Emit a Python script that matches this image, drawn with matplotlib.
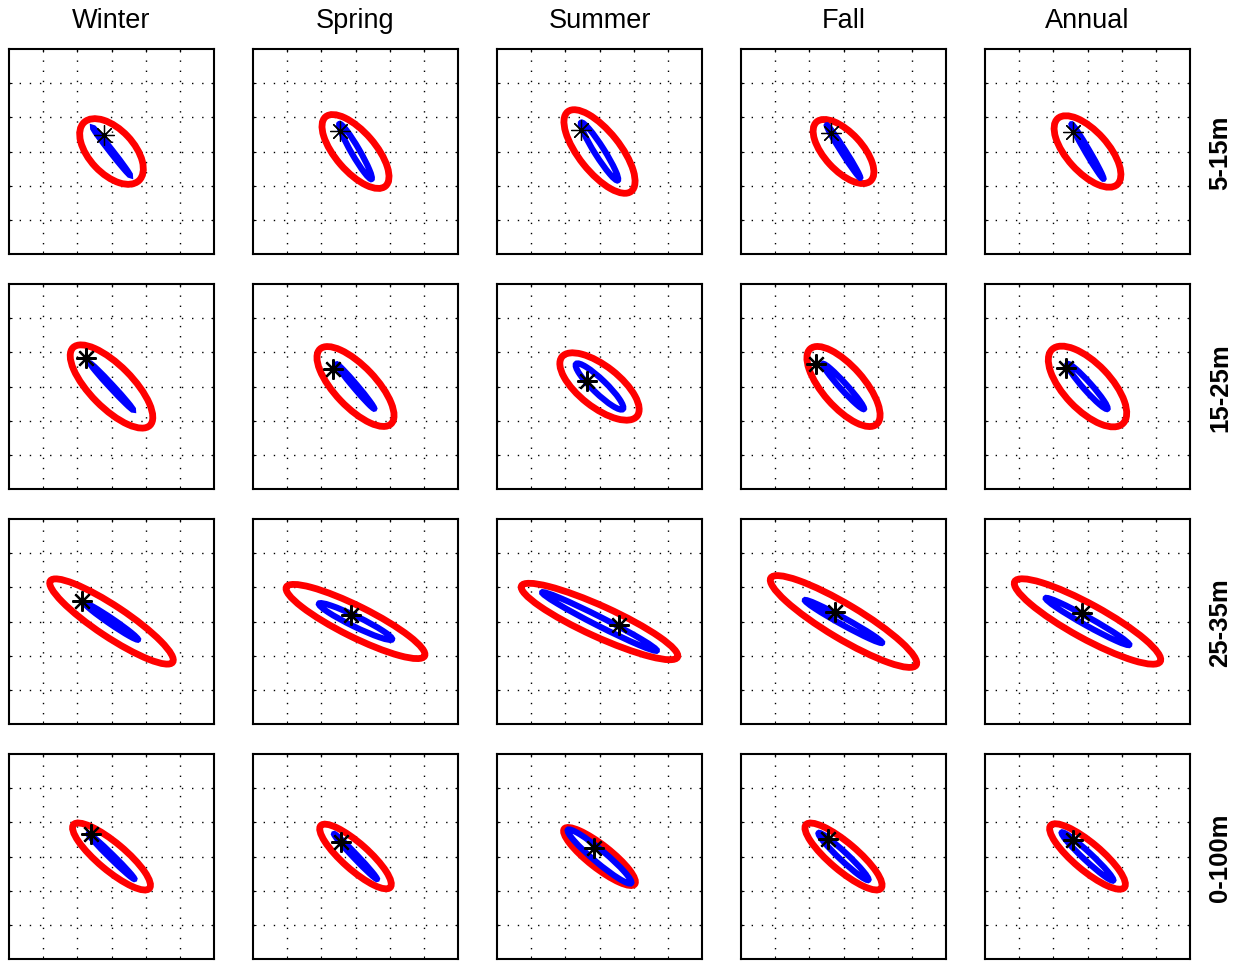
import numpy as np
import matplotlib
matplotlib.use('Agg')
import matplotlib.pyplot as plt
from matplotlib.patches import Ellipse

plt.rcParams['font.family'] = ['Liberation Sans', 'DejaVu Sans']

# 季節與深度層
seasons = ['Winter', 'Spring', 'Summer', 'Fall', 'Annual']
depths = ['5-15m', '15-25m', '25-35m', '0-100m']

# 紅色橢圓 (半長軸, 半短軸, 傾角 deg)
red_a = [[1.17, 1.34, 1.49, 1.17, 1.30],
         [1.60, 1.51, 1.40, 1.47, 1.50],
         [2.15, 2.26, 2.51, 2.48, 2.43],
         [1.45, 1.36, 1.31, 1.44, 1.41]]
red_b = [[0.65, 0.58, 0.60, 0.55, 0.60],
         [0.62, 0.60, 0.60, 0.60, 0.68],
         [0.45, 0.45, 0.45, 0.50, 0.50],
         [0.40, 0.38, 0.33, 0.40, 0.40]]
red_ang = [[-46.7, -49.1, -51.4, -47.4, -48.0],
           [-45.3, -46.4, -38.2, -48.6, -46.3],
           [-33.6, -26.5, -24.5, -30.9, -28.8],
           [-40.0, -41.6, -38.1, -40.3, -40.1]]

# 藍色橢圓
blue_a = [[0.875, 0.934, 1.00, 0.91, 0.925],
          [0.925, 0.85, 0.95, 0.89, 0.877],
          [0.94, 1.19, 1.88, 1.29, 1.40],
          [0.94, 0.91, 1.21, 1.00, 1.03]]
blue_b = [[0.04, 0.12, 0.14, 0.06, 0.06],
          [0.05, 0.06, 0.20, 0.10, 0.12],
          [0.08, 0.15, 0.13, 0.10, 0.12],
          [0.06, 0.06, 0.18, 0.12, 0.12]]
blue_ang = [[-52.0, -59.9, -57.7, -57.5, -59.7],
            [-47.2, -49.8, -44.0, -47.8, -48.4],
            [-34.3, -26.0, -26.9, -28.9, -29.2],
            [-44.5, -46.4, -40.1, -43.3, -43.0]]

# 星號位置
star_x = [[-0.21, -0.44, -0.55, -0.36, -0.41],
          [-0.76, -0.65, -0.37, -0.80, -0.62],
          [-0.85, -0.12, 0.57, -0.24, -0.17],
          [-0.59, -0.41, -0.15, -0.44, -0.43]]
star_y = [[0.48, 0.60, 0.64, 0.54, 0.57],
          [0.83, 0.52, 0.15, 0.66, 0.53],
          [0.60, 0.18, -0.10, 0.27, 0.25],
          [0.65, 0.43, 0.25, 0.52, 0.49]]

center = (0, 0)
lim = 3
grid_ticks = [-2, -1, 0, 1, 2]

W, H = 1243, 962
fig = plt.figure(figsize=(W / 100, H / 100), dpi=100)

for i, depth in enumerate(depths):
    for j, season in enumerate(seasons):
        left = 9 + 244 * j
        top = 50 + 235 * i
        ax = fig.add_axes([left / W, 1 - (top + 205) / H, 205 / W, 205 / H])
        ax.set_xlim(-lim, lim)
        ax.set_ylim(-lim, lim)
        ax.set_aspect('equal')
        ax.set_xticks(grid_ticks)
        ax.set_yticks(grid_ticks)
        ax.set_xticklabels([])
        ax.set_yticklabels([])
        ax.tick_params(direction='in', length=2, width=0.8, top=True, right=True)
        ax.grid(True, color='k', linestyle=(0, (1, 6.3)), linewidth=1.0)
        for s in ax.spines.values():
            s.set_linewidth(1.5)

        ax.add_patch(Ellipse(center, 2 * red_a[i][j], 2 * red_b[i][j], angle=red_ang[i][j],
                             fill=False, edgecolor='red', linewidth=4.9, zorder=3))
        ax.add_patch(Ellipse(center, 2 * blue_a[i][j], 2 * blue_b[i][j], angle=blue_ang[i][j],
                             fill=False, edgecolor='blue', linewidth=4.4, zorder=4))
        mew = 0.9 if i == 0 else 1.6
        ax.plot(star_x[i][j], star_y[i][j], marker=(8, 2, 0), color='k',
                markersize=14.5, markeredgewidth=mew, linestyle='none', zorder=5)

        if i == 0:
            fig.text((left + 102.5) / W, 1 - 28 / H, season, ha='center', va='baseline',
                     fontsize=19.5)
    fig.text(1220 / W, 1 - (50 + 235 * i + 102.5) / H, depth, rotation=90,
             ha='center', va='center', fontsize=18.5, fontweight='bold')

fig.savefig('out.png', dpi=100)
